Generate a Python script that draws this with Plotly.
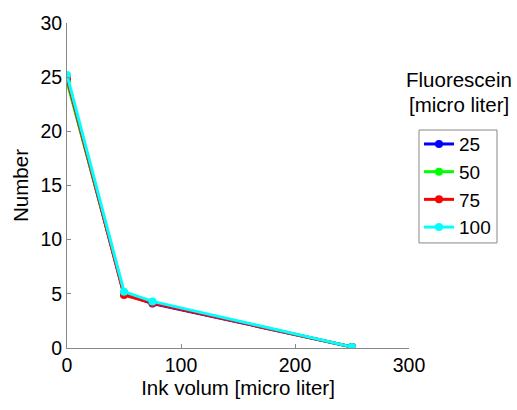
import plotly.graph_objects as go

ink = [0, 50, 75, 250]
series_names = ["25", "50", "75", "100"]
v25 = [24.8, 5.0, 4.1, 0.1]
v50 = [24.6, 5.1, 4.2, 0.1]
v75 = [24.9, 4.9, 4.15, 0.1]
v100 = [25.2, 5.2, 4.3, 0.1]
colors = ["#0000ff", "#00ff00", "#ff0000", "#00ffff"]
xticks = [0, 100, 200, 300]
yticks = [0, 5, 10, 15, 20, 25, 30]

FONT = "Liberation Sans, Arial, sans-serif"
L, T, W, H = 67, 17, 342, 331


def px(x):
    return (x - L) / W


def py(y):
    return (T + H - y) / H


fig = go.Figure()
for name, vals, c in zip(series_names, [v25, v50, v75, v100], colors):
    fig.add_trace(go.Scatter(x=ink, y=vals, name=name, mode="lines+markers",
                             line=dict(color=c, width=3), marker=dict(color=c, size=8)))

axis_common = dict(showgrid=False, zeroline=False, showline=True, linecolor="#888888",
                   linewidth=1, ticks="inside", ticklen=4, tickcolor="#888888",
                   tickfont=dict(size=19.5, color="black", family=FONT))
fig.update_layout(
    width=517, height=410,
    margin=dict(l=L, r=517 - L - W, t=T, b=410 - T - H),
    paper_bgcolor="white", plot_bgcolor="white",
    font=dict(family=FONT, size=20, color="black"),
    xaxis=dict(range=[0, 300], tickvals=xticks, **axis_common,
               title=dict(text="Ink volum [micro liter]", font=dict(size=20.5), standoff=1)),
    yaxis=dict(range=[0, 30], tickvals=yticks, **axis_common,
               title=dict(text="Number", font=dict(size=20.5), standoff=6)),
    legend=dict(x=px(419), y=py(121), xanchor="left", yanchor="top",
                borderwidth=0, font=dict(size=19), bgcolor="rgba(0,0,0,0)",
                tracegroupgap=0),
    showlegend=True,
)
fig.add_shape(type="rect", xref="paper", yref="paper", x0=px(419), x1=px(497),
              y0=py(241), y1=py(126), line=dict(color="#888888", width=1), layer="below")
fig.add_annotation(text="Fluorescein", xref="paper", yref="paper",
                   x=px(459), y=py(75), xanchor="center", yanchor="middle",
                   showarrow=False, font=dict(size=20.5))
fig.add_annotation(text="[micro liter]", xref="paper", yref="paper",
                   x=px(459), y=py(100), xanchor="center", yanchor="middle",
                   showarrow=False, font=dict(size=20.5))
fig.write_html("out.html")
